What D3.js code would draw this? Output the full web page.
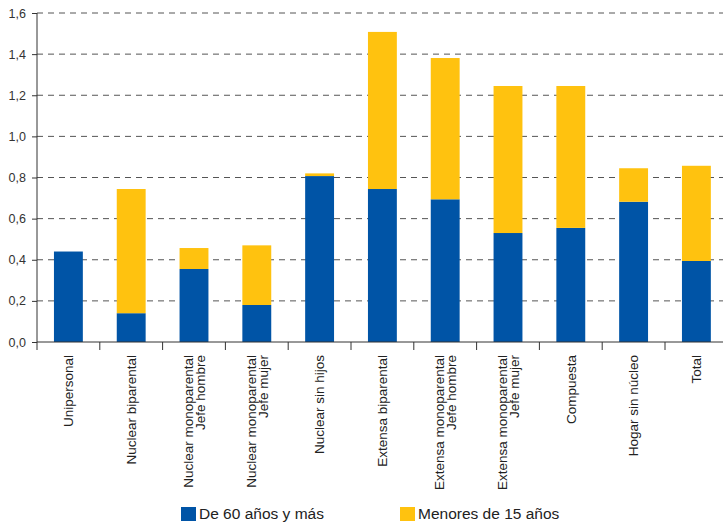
<!DOCTYPE html>
<html lang="es">
  <head>
    <meta charset="utf-8">
    <title>Hogares por tipo</title>
    <script src="https://cdn.jsdelivr.net/npm/d3@7"></script>
    <style>
      body { margin: 0; background: #fff; }
      text { font-family: "Liberation Sans", Arial, sans-serif; }
    </style>
  </head>
  <body>
    <script>
    // categories (one or two lines per label)
    var categories = [
      ["Unipersonal"],
      ["Nuclear biparental"],
      ["Nuclear monoparental", "Jefe hombre"],
      ["Nuclear monoparental", "Jefe mujer"],
      ["Nuclear sin hijos"],
      ["Extensa biparental"],
      ["Extensa monoparental", "Jefe hombre"],
      ["Extensa monoparental", "Jefe mujer"],
      ["Compuesta"],
      ["Hogar sin núcleo"],
      ["Total"]
    ];
    var seriesNames = ["De 60 años y más", "Menores de 15 años"];
    var mayores = [0.44, 0.14, 0.355, 0.18, 0.807, 0.744, 0.694, 0.53, 0.555, 0.682, 0.394];
    var menores = [0.0, 0.604, 0.102, 0.29, 0.013, 0.764, 0.687, 0.715, 0.69, 0.163, 0.463];
    var yTicks = [0, 0.2, 0.4, 0.6, 0.8, 1.0, 1.2, 1.4, 1.6];
    var colours = ["#0054a6", "#ffc20f"];

    var w = 723, h = 527;
    var plotLeft = 37, plotTop = 13, plotBottom = 342;
    var step = 62.8;

    var svg = d3.select("body").append("svg")
      .attr("width", w)
      .attr("height", h);

    var keys = categories.map(function(c) { return c.join(" "); });
    var rows = keys.map(function(k, i) {
      return { cat: k, a: mayores[i], b: menores[i] };
    });

    var x = d3.scaleBand()
      .domain(keys)
      .range([plotLeft, plotLeft + step * keys.length])
      .paddingInner(0.54)
      .paddingOuter(0.27);

    var y = d3.scaleLinear()
      .domain([0, 1.6])
      .range([plotBottom, plotTop]);

    // dashed gridlines
    svg.append("g").selectAll("line")
      .data(yTicks.filter(function(d) { return d > 0; }))
      .enter().append("line")
      .attr("x1", plotLeft)
      .attr("x2", w)
      .attr("y1", function(d) { return y(d); })
      .attr("y2", function(d) { return y(d); })
      .attr("stroke", "#555")
      .attr("stroke-width", 1)
      .attr("stroke-dasharray", "6,5");

    // stacked bars
    var stack = d3.stack().keys(["a", "b"]);
    var layers = stack(rows);

    svg.append("g").selectAll("g")
      .data(layers)
      .enter().append("g")
      .attr("fill", function(d, i) { return colours[i]; })
      .selectAll("rect")
      .data(function(d) { return d; })
      .enter().append("rect")
      .attr("x", function(d) { return x(d.data.cat); })
      .attr("width", x.bandwidth())
      .attr("y", function(d) { return y(d[1]); })
      .attr("height", function(d) { return y(d[0]) - y(d[1]); });

    // y axis
    var yAxis = d3.axisLeft(y)
      .tickValues(yTicks)
      .tickSize(5)
      .tickSizeOuter(0)
      .tickFormat(function(d) { return d3.format(".1f")(d).replace(".", ","); });

    var gy = svg.append("g")
      .attr("transform", "translate(" + plotLeft + ",0)")
      .call(yAxis);
    gy.select(".domain").attr("stroke", "#333").attr("d", "M0," + plotTop + "V" + (plotBottom + 8));
    gy.selectAll(".tick line").attr("stroke", "#333");
    gy.selectAll(".tick text")
      .attr("x", -11)
      .attr("fill", "#333")
      .style("font-size", "12.5px")
      .style("font-family", "'Liberation Sans', Arial, sans-serif");

    // x axis line and boundary ticks
    svg.append("line")
      .attr("x1", plotLeft).attr("x2", w)
      .attr("y1", plotBottom).attr("y2", plotBottom)
      .attr("stroke", "#333");

    svg.append("g").selectAll("line")
      .data(keys.slice(1))
      .enter().append("line")
      .attr("x1", function(d) { return x(d) - x.step() * x.paddingInner() / 2; })
      .attr("x2", function(d) { return x(d) - x.step() * x.paddingInner() / 2; })
      .attr("y1", plotBottom)
      .attr("y2", plotBottom + 8)
      .attr("stroke", "#333");

    // category labels, rotated
    var labels = svg.append("g").selectAll("text")
      .data(categories)
      .enter().append("text")
      .attr("transform", function(d, i) {
        return "translate(" + (x(keys[i]) + x.bandwidth() / 2) + "," + 355 + ") rotate(-90)";
      })
      .attr("text-anchor", "end")
      .attr("fill", "#222")
      .style("font-size", "13.5px");

    labels.selectAll("tspan")
      .data(function(d) { return d; })
      .enter().append("tspan")
      .attr("x", 0)
      .attr("y", function(d, j, nodes) {
        var n = nodes.length;
        return (j - (n - 1) / 2) * 12;
      })
      .attr("dy", "0.35em")
      .text(function(d) { return d; });

    // legend
    var legendX = [181, 400];
    var legend = svg.append("g").selectAll("g")
      .data(seriesNames)
      .enter().append("g")
      .attr("transform", function(d, i) { return "translate(" + legendX[i] + ",507)"; });

    legend.append("rect")
      .attr("width", 15)
      .attr("height", 14)
      .attr("fill", function(d, i) { return colours[i]; });

    legend.append("text")
      .attr("x", 18)
      .attr("y", 12)
      .attr("fill", "#222")
      .style("font-size", "15.5px")
      .text(function(d) { return d; });
    </script>
  </body>
</html>
